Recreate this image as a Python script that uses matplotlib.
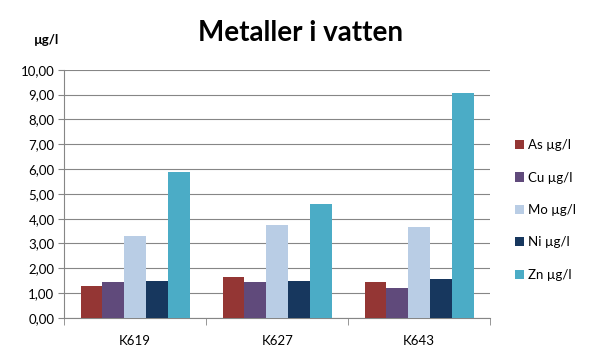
import matplotlib
matplotlib.use('Agg')
import matplotlib.pyplot as plt
import numpy as np

plt.rcParams['font.family'] = ['Lato', 'DejaVu Sans']

categories = ['K619', 'K627', 'K643']
series = ['As µg/l', 'Cu µg/l', 'Mo µg/l', 'Ni µg/l', 'Zn µg/l']
as_vals = [1.30, 1.63, 1.45]
cu_vals = [1.45, 1.45, 1.21]
mo_vals = [3.31, 3.75, 3.67]
ni_vals = [1.49, 1.49, 1.57]
zn_vals = [5.89, 4.60, 9.06]
colors = ['#943634', '#604A7B', '#B9CDE5', '#17375E', '#4BACC6']

values = [as_vals, cu_vals, mo_vals, ni_vals, zn_vals]

fig = plt.figure(figsize=(6, 3.6), dpi=100)
ax = fig.add_axes([0.107, 0.117, 0.71, 0.689])

x = np.arange(len(categories))
w = 0.154
for i, (name, vals) in enumerate(zip(series, values)):
    ax.bar(x + (i - 2) * w, vals, width=w, color=colors[i], label=name, zorder=3)

ax.set_xlim(-0.5, len(categories) - 0.5)
ax.set_ylim(0, 10)
ax.set_yticks(np.arange(0, 11, 1))
ax.set_yticklabels(['{:.2f}'.format(v).replace('.', ',') for v in range(0, 11)], fontsize=9.5)
ax.set_xticks(x)
ax.set_xticklabels(categories, fontsize=9.5)
ax.tick_params(axis='x', length=0, pad=12)
ax.tick_params(axis='y', length=4, color='#868686', pad=3)
ax.set_xticks(np.arange(-0.5, len(categories), 1), minor=True)
ax.tick_params(axis='x', which='minor', length=5, color='#868686')

ax.grid(axis='y', color='#868686', linewidth=0.8, zorder=0)
for s in ['top', 'right']:
    ax.spines[s].set_visible(False)
for s in ['left', 'bottom']:
    ax.spines[s].set_color('#868686')
    ax.spines[s].set_linewidth(0.8)

fig.text(0.5, 0.908, 'Metaller i vatten', ha='center', va='center',
         fontsize=20, fontweight='bold')
fig.text(0.078, 0.888, 'µg/l', ha='center', va='center', fontsize=9.5, fontweight='bold')

leg = ax.legend(loc='center left', bbox_to_anchor=(1.03, 0.435), frameon=False,
                fontsize=9.5, handlelength=0.7, handleheight=0.7, handletextpad=0.3,
                labelspacing=1.55)

fig.savefig('out.png', dpi=100)
